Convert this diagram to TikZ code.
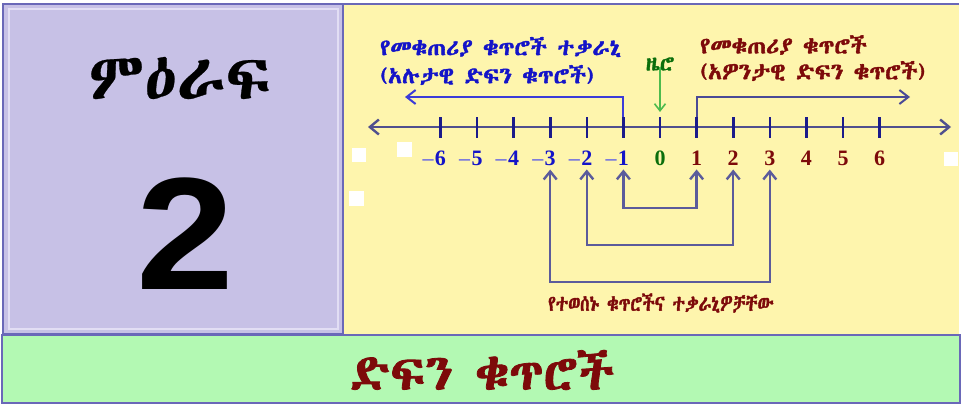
\documentclass[tikz,border=0pt]{standalone}
\usepackage{fontspec}
\usetikzlibrary{arrows.meta}
\newfontfamily\ethbold[FakeBold=1.6]{Abyssinica SIL}
\newfontfamily\ethcond[FakeBold=1.6,FakeStretch=0.78]{Abyssinica SIL}
\newfontfamily\ethserif[FakeBold=0.4]{Abyssinica SIL}
\newfontfamily\digitfont{Liberation Serif}
\newfontfamily\bigfont{Liberation Sans}
\definecolor{lav}{HTML}{C7C1E6}
\definecolor{lavlight}{HTML}{E2DEF4}
\definecolor{edge}{HTML}{6A68B8}
\definecolor{yel}{HTML}{FEF5AD}
\definecolor{grn}{HTML}{B3F9B3}
\definecolor{ticknavy}{HTML}{1B1B8A}
\definecolor{axis}{HTML}{50508E}
\definecolor{brkcol}{HTML}{5B5B9B}
\definecolor{negblue}{HTML}{1414C8}
\definecolor{minusblue}{HTML}{7070E0}
\definecolor{posred}{HTML}{7D0A0A}
\definecolor{zerogreen}{HTML}{0B6E0B}
\definecolor{zeroarrow}{HTML}{4DBB4D}
\definecolor{negarrowcol}{HTML}{3C3CD8}
\definecolor{posarrowcol}{HTML}{4A4A96}
\tikzset{
  ticmark/.style={ticknavy,line width=2.6pt},
  numlab/.style={inner sep=0pt,font=\digitfont\bfseries\fontsize{22}{22}\selectfont},
  minuslab/.style={inner sep=0pt,anchor=base east,text=minusblue,font=\digitfont\bfseries\fontsize{22}{22}\selectfont},
  brk/.style={brkcol,line width=2.4pt,{Straight Barb[length=8pt,width=13pt]}-{Straight Barb[length=8pt,width=13pt]},shorten <=4pt,shorten >=4pt},
  smalleth/.style={inner sep=0pt,font=\ethbold\fontsize{23}{23}\selectfont},
  negtext/.style={smalleth,text=negblue},
  postext/.style={smalleth,text=posred},
}
\begin{document}
\begin{tikzpicture}[x=1pt,y=-1pt]
\useasboundingbox (0,0) rectangle (962,405);
\fill[white] (0,0) rectangle (962,405);
% panels
\fill[yel] (343,4) rectangle (959,334);
\fill[lav] (4,4) rectangle (343,334);
\draw[lavlight,line width=2pt] (9,9) rectangle (338,329);
\draw[edge,line width=2.5pt] (3,4) rectangle (343,334);
\draw[edge,line width=2.5pt] (343,4) -- (959,4);
\fill[grn] (2,335) rectangle (960,403);
\draw[edge,line width=2pt] (2,335) rectangle (960,403);
% stray white marks
\fill[white] (352,148) rectangle (366,162);
\fill[white] (397,142) rectangle (412,157);
\fill[white] (349,191) rectangle (364,206);
\fill[white] (944,152) rectangle (958,166);
% chapter panel
\node[font=\ethserif\fontsize{65}{65}\selectfont] (chap) at (180,78) {ምዕራፍ};
\node[font=\bigfont\bfseries\fontsize{160}{160}\selectfont,inner sep=0pt] (num) at (185,234) {\scalebox{1.1}[1]{2}};
% title bar
\node[font=\ethbold\fontsize{50}{50}\selectfont,text=posred] (title) at (482,370) {ድፍን ቁጥሮች};
% number line
\coordinate (axL) at (368,127);
\coordinate (axR) at (951,127);
\draw[axis,line width=2.4pt,{Straight Barb[length=9pt,width=15pt]}-{Straight Barb[length=9pt,width=15pt]}] (axL) -- (axR);
\foreach \i in {-6,...,6} {
  \coordinate (t\i) at ({660+36.6*\i},117);
  \draw[ticmark] (t\i) -- ++(0,21);
}
\foreach \i in {1,...,6} {
  \node[numlab,text=posred] (n\i) at ({660+36.6*\i},158) {\i};
  \node[numlab,text=negblue] (n-\i) at ({660-36.6*\i},158) {\i};
  \node[minuslab] (m-\i) at ([xshift=-1pt]n-\i.base west) {–};
}
\node[numlab,text=zerogreen] (n0) at (660,158) {0};
% zero marker
\node[inner sep=0pt,font=\ethbold\fontsize{21}{21}\selectfont,text=zerogreen] (zl) at (660,64) {ዜሮ};
\draw[zeroarrow,line width=1.6pt,-{Straight Barb[length=7pt,width=11pt]},shorten >=5pt] ([yshift=4pt]zl.south) -- (t0);
% negative and positive ranges
\coordinate (negend) at (405,97);
\coordinate (posend) at (910,97);
\draw[negarrowcol,line width=2pt,-{Straight Barb[length=9pt,width=14pt]}] (t-1) -- (t-1 |- negend) -- (negend);
\draw[posarrowcol,line width=2pt,-{Straight Barb[length=9pt,width=14pt]}] (t1) -- (t1 |- posend) -- (posend);
\node[negtext,anchor=west] (negA) at (380,47) {የመቁጠሪያ ቁጥሮች ተቃራኒ};
\node[negtext,anchor=west] (negB) at (380,75) {(አሉታዊ ድፍን ቁጥሮች)};
\node[postext,anchor=west] (posA) at (700,45) {የመቁጠሪያ ቁጥሮች};
\node[postext,anchor=west] (posB) at (700,71) {(አዎንታዊ ድፍን ቁጥሮች)};
% opposite pairs
\draw[brk] (n-1.south) -- (n-1.south |- 0,208) -| (n1.south);
\draw[brk] (n-2.south) -- (n-2.south |- 0,245) -| (n2.south);
\draw[brk] (n-3.south) -- (n-3.south |- 0,282) -| (n3.south);
\node[postext,font=\ethcond\fontsize{22}{22}\selectfont] (pairs) at (661,303) {የተወሰኑ ቁጥሮችና ተቃራኒዎቻቸው};
\end{tikzpicture}
\end{document}
